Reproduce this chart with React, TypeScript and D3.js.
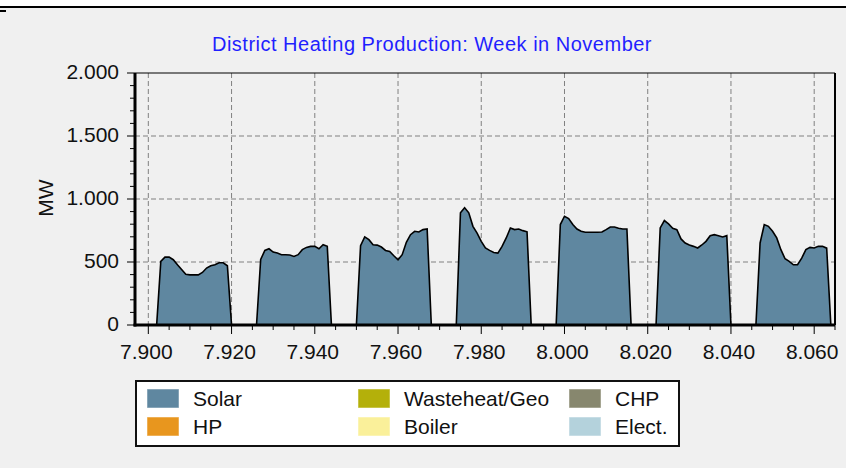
import React from 'react';
import { scaleLinear, area, line, range, formatLocale } from 'd3';

// hourly production (MW), index = hour of day, one array per day of the week
const day1 = [0, 0, 0, 0, 0, 0, 0, 505, 539, 539, 518, 478, 440, 402, 398, 398, 398, 417, 452, 470, 478, 494, 494, 470];
const day2 = [0, 0, 0, 0, 0, 0, 0, 520, 592, 605, 579, 571, 558, 558, 555, 544, 558, 598, 616, 624, 624, 605, 637, 624];
const day3 = [0, 0, 0, 0, 0, 0, 0, 630, 699, 677, 637, 634, 619, 592, 584, 550, 518, 558, 656, 717, 744, 738, 757, 762];
const day4 = [0, 0, 0, 0, 0, 0, 0, 890, 930, 890, 783, 730, 664, 611, 592, 576, 571, 624, 691, 770, 757, 762, 749, 740];
const day5 = [0, 0, 0, 0, 0, 0, 0, 797, 863, 845, 797, 762, 744, 736, 736, 736, 736, 738, 757, 778, 778, 768, 762, 762];
const day6 = [0, 0, 0, 0, 0, 0, 0, 770, 829, 802, 768, 757, 683, 651, 635, 624, 611, 635, 664, 709, 717, 709, 699, 709];
const day7 = [0, 0, 0, 0, 0, 0, 0, 651, 797, 783, 744, 691, 598, 526, 505, 478, 478, 531, 598, 616, 611, 624, 624, 610];
const days = [day1, day2, day3, day4, day5, day6, day7];
const weekStart = 7896;

const xTicks = [7900, 7920, 7940, 7960, 7980, 8000, 8020, 8040, 8060];
const yTicks = [0, 500, 1000, 1500, 2000];

const legendNames = ['Solar', 'HP', 'Wasteheat/Geo', 'Boiler', 'CHP', 'Elect.'];
const legendColors = ['#5f87a0', '#e8961e', '#b4b00a', '#faf09a', '#87876e', '#b4d2dc'];

const title = 'District Heating Production: Week in November';
const yLabel = 'MW';

const dims = { width: 846, height: 468, left: 135, right: 835, top: 73, bottom: 325 };
const font = 'Liberation Sans, Arial, sans-serif';

const fmt = formatLocale({ decimal: ',', thousands: '.', grouping: [3], currency: ['', ''] }).format(',');

type Pt = { h: number; v: number };

const App: React.FC = () => {
  const points: Pt[] = [];
  days.forEach((d, i) => d.forEach((v, k) => points.push({ h: weekStart + i * 24 + k, v })));
  points.push({ h: weekStart + 168, v: 0 });
  points.push({ h: weekStart + 169, v: 0 });

  const x = scaleLinear().domain([7896.8, 8065]).range([dims.left, dims.right]);
  const y = scaleLinear().domain([0, 2000]).range([dims.bottom, dims.top]);

  const areaGen = area<Pt>().x(d => x(d.h)).y0(y(0)).y1(d => y(d.v));
  const lineGen = line<Pt>().x(d => x(d.h)).y(d => y(d.v));

  const xMinor = range(7900, 8066, 5).filter(t => t % 20 !== 0);
  const yMinor = range(0, 2001, 100).filter(t => t % 500 !== 0);

  return (
    <svg width={dims.width} height={dims.height} style={{ position: 'absolute', left: 0, top: 0 }}>
      <rect x={0} y={0} width={dims.width} height={dims.height} fill="#fff" />
      <rect x={0} y={8} width={dims.width} height={dims.height - 8} fill="#f0f0f0" />
      <line x1={0} x2={dims.width} y1={7} y2={7} stroke="#000" strokeWidth={2} />
      <rect x={0} y={10} width={6} height={2} fill="#000" />

      <text x={432} y={51} textAnchor="middle" fontFamily={font} fontSize={20} letterSpacing={0.5} fill="#1f1fff">
        {title}
      </text>

      <defs>
        <clipPath id="plot">
          <rect x={dims.left} y={dims.top} width={dims.right - dims.left} height={dims.bottom - dims.top} />
        </clipPath>
      </defs>

      {/* grid */}
      {xTicks.map(t => (
        <line key={'gx' + t} x1={x(t)} x2={x(t)} y1={dims.top} y2={dims.bottom} stroke="#808080" strokeDasharray="5,3" />
      ))}
      {yTicks.filter(t => t > 0 && t < 2000).map(t => (
        <line key={'gy' + t} x1={dims.left} x2={dims.right} y1={y(t)} y2={y(t)} stroke="#808080" strokeDasharray="5,3" />
      ))}

      <g clipPath="url(#plot)">
        <path d={areaGen(points) || ''} fill="#5f87a0" />
        <path d={lineGen(points) || ''} fill="none" stroke="#000" strokeWidth={1.6} />
      </g>

      {/* frame */}
      <line x1={dims.left} x2={dims.right} y1={dims.top} y2={dims.top} stroke="#000" strokeWidth={1} />
      <line x1={dims.right} x2={dims.right} y1={dims.top} y2={dims.bottom} stroke="#000" strokeWidth={2} />
      <line x1={dims.left} x2={dims.left} y1={dims.top} y2={dims.bottom + 1.5} stroke="#000" strokeWidth={3} />
      <line x1={dims.left - 1.5} x2={dims.right} y1={dims.bottom} y2={dims.bottom} stroke="#000" strokeWidth={3} />

      {/* y axis */}
      {yTicks.map(t => (
        <g key={'yt' + t}>
          <line x1={dims.left - 8} x2={dims.left} y1={y(t)} y2={y(t)} stroke="#000" />
          <text x={dims.left - 16} y={y(t) + 6} textAnchor="end" fontFamily={font} fontSize={21} fill="#111">
            {fmt(t)}
          </text>
        </g>
      ))}
      {yMinor.map(t => (
        <line key={'ym' + t} x1={dims.left - 5} x2={dims.left} y1={y(t)} y2={y(t)} stroke="#000" />
      ))}
      <text
        transform={`translate(53, 198) rotate(-90)`}
        textAnchor="middle"
        fontFamily={font}
        fontSize={21}
        fill="#111"
      >
        {yLabel}
      </text>

      {/* x axis */}
      {xTicks.map(t => (
        <g key={'xt' + t}>
          <line x1={x(t)} x2={x(t)} y1={dims.bottom} y2={dims.bottom + 9} stroke="#000" />
          <text x={x(t) - 2} y={359} textAnchor="middle" fontFamily={font} fontSize={21} fill="#111">
            {fmt(t)}
          </text>
        </g>
      ))}
      {xMinor.map(t => (
        <line key={'xm' + t} x1={x(t)} x2={x(t)} y1={dims.bottom} y2={dims.bottom + 5} stroke="#000" />
      ))}

      {/* legend */}
      <rect x={136} y={381} width={543} height={65} fill="#fff" stroke="#111" strokeWidth={2} />
      {legendNames.map((name, i) => {
        const lx = 147 + Math.floor(i / 2) * 211;
        const ly = 389 + (i % 2) * 28;
        return (
          <g key={name}>
            <rect x={lx} y={ly} width={32} height={19} fill={legendColors[i]} stroke="#fff" strokeOpacity={0.5} />
            <text x={lx + 46} y={ly + 17} fontFamily={font} fontSize={21} fill="#111">
              {name}
            </text>
          </g>
        );
      })}
    </svg>
  );
};

export default App;
